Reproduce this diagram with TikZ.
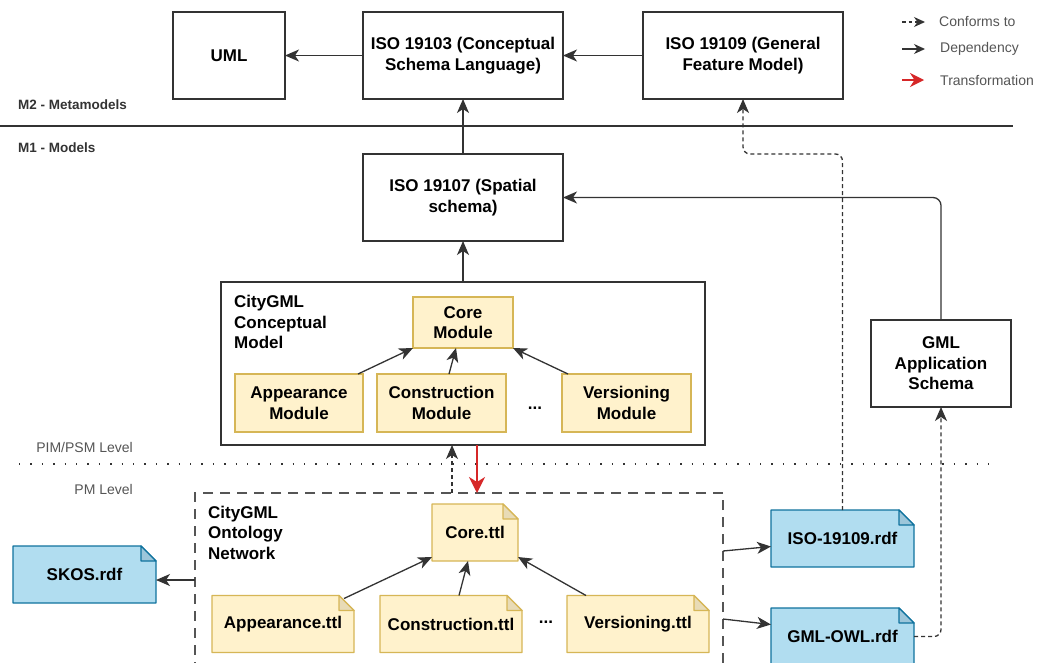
\documentclass[tikz,border=0pt]{standalone}
\usepackage{fontspec}
\setmainfont{Liberation Sans}
\usetikzlibrary{arrows.meta}
\definecolor{yfill}{HTML}{FFF2CC}
\definecolor{ystroke}{HTML}{D6B656}
\definecolor{yfold}{HTML}{E8DBB6}
\definecolor{bfill}{HTML}{B1DDF0}
\definecolor{bstroke}{HTML}{10739E}
\definecolor{bfold}{HTML}{9CC6DA}
\definecolor{tred}{HTML}{D62728}
\definecolor{lgray}{HTML}{555555}
\definecolor{dkline}{HTML}{333333}
\newcommand\mainfnt{\bfseries\fontsize{17}{20.5}\selectfont}
\newcommand\smallfnt{\fontsize{14}{16}\selectfont}
\newcommand\docnode[9]{%
 \pgfmathsetmacro\dxL{#2-#4/2}\pgfmathsetmacro\dxR{#2+#4/2}%
 \pgfmathsetmacro\dxT{#3-#5/2}\pgfmathsetmacro\dxB{#3+#5/2}%
 \pgfmathsetmacro\dxF{\dxR-15}\pgfmathsetmacro\dxG{\dxT+15}%
 \filldraw[fill=#7,draw=#8,line width=1.3pt,line join=round] (\dxL,\dxT) -- (\dxF,\dxT) -- (\dxR,\dxG) -- (\dxR,\dxB) -- (\dxL,\dxB) -- cycle;
 \filldraw[fill=#9,draw=#8,line width=1.3pt,line join=round] (\dxF,\dxT) -- (\dxF,\dxG) -- (\dxR,\dxG) -- cycle;
 \node[doctext, minimum width=#4, minimum height=#5] (#1) at (#2,#3) {#6};}
\tikzset{
 box/.style={draw=dkline, line width=1.3pt, fill=white, inner sep=0pt, outer sep=0pt, align=center, font=\mainfnt},
 modbox/.style={draw=ystroke, line width=1.3pt, fill=yfill, inner sep=0pt, outer sep=0pt, align=center, font=\mainfnt},
 doctext/.style={inner sep=0pt, outer sep=0pt, align=center, font=\mainfnt},
 lbl/.style={inner sep=0pt, align=left, font=\mainfnt},
 dep/.style={draw=dkline, line width=1.3pt, -{Stealth[length=14pt,width=12pt,inset=4pt]}},
 conf/.style={draw=dkline, line width=1.3pt, dash pattern=on 4pt off 3pt, -{Stealth[length=14pt,width=12pt,inset=4pt]}},
 trans/.style={draw=tred, line width=2pt, -{Stealth[length=16pt,width=16pt,inset=5pt]}},
 ontobox/.style={draw=lgray, line width=1.5pt, dash pattern=on 10pt off 7pt, inner sep=0pt, outer sep=0pt},
 levtext/.style={font=\smallfnt, text=lgray, inner sep=0pt},
 mtext/.style={font=\bfseries\fontsize{13.5}{16}\selectfont, text=dkline, inner sep=0pt},
}
\begin{document}
\begin{tikzpicture}[x=1pt,y=-1pt]
\useasboundingbox (0,0) rectangle (1040,662);
\clip (0,0) rectangle (1040,662);
\fill[white] (0,0) rectangle (1040,662);

% M2 level
\node[box, minimum width=112, minimum height=87] (uml) at (229,55.5) {UML};
\node[box, minimum width=200, minimum height=87] (s103) at (463,55.5) {ISO 19103 (Conceptual\\Schema Language)};
\node[box, minimum width=200, minimum height=87] (gfm) at (743,55.5) {ISO 19109 (General\\Feature Model)};
\node[mtext, anchor=west] (m2) at (18,105) {M2 - Metamodels};
\node[mtext, anchor=west] (m1) at (18,148) {M1 - Models};
\coordinate (divL) at (0,126);
\coordinate (divR) at (1013,126);
\draw[draw=dkline, line width=1.3pt] (divL) -- (divR);

% M1 level
\node[box, minimum width=200, minimum height=87] (s107) at (463,197.5) {ISO 19107 (Spatial\\schema)};
\node[box, minimum width=140, minimum height=87] (app) at (941,363.5) {GML\\Application\\Schema};

% Conceptual model
\node[box, minimum width=484, minimum height=163] (concept) at (463,363.5) {};
\node[lbl, anchor=west] (conceptlbl) at (234,322) {CityGML\\Conceptual\\Model};
\node[modbox, minimum width=100, minimum height=51] (core) at (463,322.5) {Core\\Module};
\node[modbox, minimum width=128, minimum height=58] (appm) at (299,403) {Appearance\\Module};
\node[modbox, minimum width=129, minimum height=58] (conm) at (441.5,403) {Construction\\Module};
\node[modbox, minimum width=129, minimum height=58] (verm) at (626.5,403) {Versioning\\Module};
\node[font=\mainfnt, inner sep=0pt] (dots1) at (535,408) {...};
\draw[dep] ([xshift=-5pt]appm.north east) -- (core.south west);
\draw[dep] ([xshift=7.5pt]conm.north) -- ([xshift=-7pt]core.south);
\draw[dep] ([xshift=6pt]verm.north west) -- (core.south east);

% levels
\coordinate (dotL) at (19,464);
\coordinate (dotR) at (997,464);
\draw[draw=dkline, line width=1.4pt, dash pattern=on 1.4pt off 10pt] (dotL) -- (dotR);
\node[levtext, anchor=east] (pim) at (133,447) {PIM/PSM Level};
\node[levtext, anchor=east] (pm) at (133,489) {PM Level};

% Ontology network
\node[ontobox, minimum width=528, minimum height=220, anchor=north west] (onto) at (195,493) {};
\node[lbl, anchor=west] (ontolbl) at (208,532.5) {CityGML\\Ontology\\Network};
\docnode{corettl}{475}{532.5}{86}{57}{Core.ttl}{yfill}{ystroke}{yfold}
\docnode{appttl}{283}{624}{142}{57}{Appearance.ttl}{yfill}{ystroke}{yfold}
\docnode{conttl}{451}{624}{142}{57}{Construction.ttl}{yfill}{ystroke}{yfold}
\docnode{verttl}{638}{624}{142}{57}{Versioning.ttl}{yfill}{ystroke}{yfold}
\node[font=\mainfnt, inner sep=0pt] (dots2) at (546,622) {...};
\draw[dep] ([xshift=-10pt,yshift=-3pt]appttl.north east) -- ([yshift=4pt]corettl.south west);
\draw[dep] ([xshift=8pt]conttl.north) -- ([xshift=-7pt]corettl.south);
\draw[dep] ([xshift=19pt]verttl.north west) -- ([yshift=4pt]corettl.south east);

% external rdf files
\docnode{skos}{84.5}{574.5}{143}{57}{SKOS.rdf}{bfill}{bstroke}{bfold}
\docnode{isordf}{842.5}{538.5}{143}{57}{ISO-19109.rdf}{bfill}{bstroke}{bfold}
\docnode{owlrdf}{842.5}{636.5}{143}{57}{GML-OWL.rdf}{bfill}{bstroke}{bfold}

% connectors
\draw[dep] (s103.west) -- (uml.east);
\draw[dep] (gfm.west) -- (s103.east);
\draw[dep] (s107.north) -- (s103.south);
\draw[dep] (concept.north) -- (s107.south);
\draw[dep, rounded corners=8pt] (app.north) |- (s107.east);
\draw[conf, rounded corners=7pt] (isordf.north) -- ++(0,-356) -| (gfm.south);
\draw[conf, rounded corners=7pt] (owlrdf.east) -| (app.south);
\draw[conf] ([xshift=-11pt]concept.south |- onto.north) -- ([xshift=-11pt]concept.south);
\draw[trans] ([xshift=14pt]concept.south) -- ([xshift=14pt]concept.south |- onto.north);
\draw[dep] ([yshift=-87pt]onto.north west) -- ([yshift=-87pt]onto.north west -| skos.east);
\draw[dep] ([yshift=-58pt]onto.north east) -- ([yshift=-8pt]isordf.west);
\draw[dep] ([yshift=-126pt]onto.north east) -- ([yshift=12pt]owlrdf.west);

% legend
\coordinate (lg1a) at (902,22); \coordinate (lg1b) at (925,22);
\coordinate (lg2a) at (902,49); \coordinate (lg2b) at (925,49);
\coordinate (lg3a) at (902,80); \coordinate (lg3b) at (924,80);
\draw[conf, dash pattern=on 3.5pt off 3pt, -{Stealth[length=11pt,width=10pt,inset=3.5pt]}] (lg1a) -- (lg1b);
\draw[dep, -{Stealth[length=11pt,width=10pt,inset=3.5pt]}] (lg2a) -- (lg2b);
\draw[trans, -{Stealth[length=14pt,width=14pt,inset=4.5pt]}] (lg3a) -- (lg3b);
\node[levtext, anchor=west] (lt1) at (939,21) {Conforms to};
\node[levtext, anchor=west] (lt2) at (940,49) {Dependency};
\node[levtext, anchor=west] (lt3) at (940,80) {Transformation};
\end{tikzpicture}
\end{document}
